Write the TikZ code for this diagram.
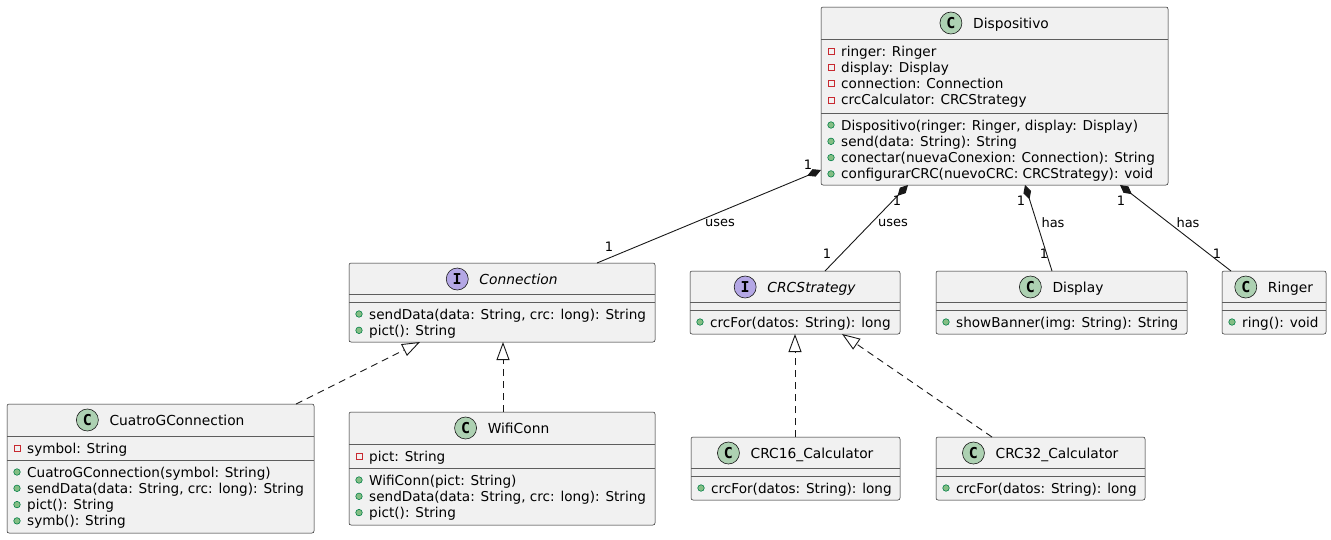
\documentclass[tikz,border=0pt]{standalone}
\usepackage{fontspec}
\setmainfont{DejaVu Sans}
\setmonofont{DejaVu Sans Mono}
\usepackage{tikz}
\usetikzlibrary{calc,arrows.meta}

\definecolor{boxfill}{HTML}{F1F1F1}
\definecolor{linec}{HTML}{181818}
\definecolor{classgreen}{HTML}{ADD1B2}
\definecolor{ifacepurple}{HTML}{B4A7E5}
\definecolor{privred}{HTML}{C82930}
\definecolor{pubgreen}{HTML}{84BE84}
\definecolor{pubdark}{HTML}{038048}

\begin{document}
\begin{tikzpicture}[x=1pt, y=-1pt,
    umlbox/.style={draw=linec, fill=boxfill, rounded corners=2pt, line width=0.5pt, inner sep=0pt, outer sep=0pt},
    sepline/.style={draw=linec!70, line width=0.5pt},
    cbadge/.style={circle, draw=linec, line width=0.6pt, fill=classgreen, minimum size=22pt, inner sep=0pt, font=\ttfamily\bfseries\fontsize{15}{15}\selectfont},
    ibadge/.style={cbadge, fill=ifacepurple},
    cname/.style={font=\fontsize{13.8}{16}\selectfont, inner sep=0pt, anchor=base},
    iname/.style={cname, font=\fontsize{13.8}{16}\selectfont\itshape},
    member/.style={font=\fontsize{13.6}{16}\selectfont, inner sep=0pt, anchor=base west},
    privicon/.style={rectangle, draw=privred, line width=0.7pt, minimum size=6pt, inner sep=0pt},
    pubicon/.style={circle, draw=pubdark, fill=pubgreen, line width=0.6pt, minimum size=6.5pt, inner sep=0pt},
    lbl/.style={font=\fontsize{13}{15}\selectfont, inner sep=0pt},
    comp/.style={draw=linec, line width=0.9pt, {Diamond[length=15pt,width=8pt]}-},
    realize/.style={draw=linec, line width=0.9pt, dash pattern=on 7pt off 5pt, -{Triangle[open,length=18pt,width=13pt]}}]
    \useasboundingbox (0,0) rectangle (1331,539);

    % Dispositivo
    \node[umlbox, minimum width=347pt, minimum height=178pt] (dispositivo) at (994.5,96) {};
    \node[cname] (dispositivoName) at (1011,28) {Dispositivo};
    \node[cbadge] (dispositivoBadge) at ($(dispositivoName.base west)+(-22,-5)$) {C};
    \draw[sepline] ($(dispositivo.north west)+(0,32)$) -- ($(dispositivo.north east)+(0,32)$);
    \draw[sepline] ($(dispositivo.north west)+(0,106)$) -- ($(dispositivo.north east)+(0,106)$);
    \foreach \m [count=\i from 0] in {ringer: Ringer, display: Display, connection: Connection, crcCalculator: CRCStrategy}{
      \node[privicon] (dispAttrIcon\i) at (831,51+16.3*\i) {};
      \node[member] (dispAttr\i) at (841,56+16.3*\i) {\m};
    }
    \foreach \m [count=\i from 0] in {{Dispositivo(ringer: Ringer, display: Display)}, send(data: String): String,
        conectar(nuevaConexion: Connection): String, configurarCRC(nuevoCRC: CRCStrategy): void}{
      \node[pubicon] (dispOpIcon\i) at (831,125+16.3*\i) {};
      \node[member] (dispOp\i) at (841,130+16.3*\i) {\m};
    }

    % Connection
    \node[umlbox, minimum width=306pt, minimum height=79pt] (connection) at (502,302.5) {};
    \node[iname] (connectionName) at (518.5,284) {Connection};
    \node[ibadge] (connectionBadge) at ($(connectionName.base west)+(-22,-5)$) {I};
    \draw[sepline] ($(connection.north west)+(0,31)$) -- ($(connection.north east)+(0,31)$);
    \draw[sepline] ($(connection.north west)+(0,39)$) -- ($(connection.north east)+(0,39)$);
    \foreach \m [count=\i from 0] in {{sendData(data: String, crc: long): String}, pict(): String}{
      \node[pubicon] (connOpIcon\i) at (359,314+16.3*\i) {};
      \node[member] (connOp\i) at (369,319+16.3*\i) {\m};
    }

    % CRCStrategy
    \node[umlbox, minimum width=210pt, minimum height=63pt] (crcStrategy) at (795,302.5) {};
    \node[iname] (crcStrategyName) at (811.5,292) {CRCStrategy};
    \node[ibadge] (crcStrategyBadge) at ($(crcStrategyName.base west)+(-22,-5)$) {I};
    \draw[sepline] ($(crcStrategy.north west)+(0,31)$) -- ($(crcStrategy.north east)+(0,31)$);
    \draw[sepline] ($(crcStrategy.north west)+(0,39)$) -- ($(crcStrategy.north east)+(0,39)$);
    \node[pubicon] (crcStrategyOpIcon) at (700,322) {};
    \node[member] (crcStrategyOp) at (710,327) {crcFor(datos: String): long};

    % Display
    \node[umlbox, minimum width=251pt, minimum height=63pt] (display) at (1061.5,302.5) {};
    \node[cname] (displayName) at (1078,292) {Display};
    \node[cbadge] (displayBadge) at ($(displayName.base west)+(-22,-5)$) {C};
    \draw[sepline] ($(display.north west)+(0,31)$) -- ($(display.north east)+(0,31)$);
    \draw[sepline] ($(display.north west)+(0,39)$) -- ($(display.north east)+(0,39)$);
    \node[pubicon] (displayOpIcon) at (946,322) {};
    \node[member] (displayOp) at (956,327) {showBanner(img: String): String};

    % Ringer
    \node[umlbox, minimum width=104pt, minimum height=63pt] (ringer) at (1274,302.5) {};
    \node[cname] (ringerName) at (1290.5,292) {Ringer};
    \node[cbadge] (ringerBadge) at ($(ringerName.base west)+(-22,-5)$) {C};
    \draw[sepline] ($(ringer.north west)+(0,31)$) -- ($(ringer.north east)+(0,31)$);
    \draw[sepline] ($(ringer.north west)+(0,39)$) -- ($(ringer.north east)+(0,39)$);
    \node[pubicon] (ringerOpIcon) at (1232,322) {};
    \node[member] (ringerOp) at (1242,327) {ring(): void};

    % CuatroGConnection
    \node[umlbox, minimum width=307pt, minimum height=129pt] (cuatroG) at (160.5,468.5) {};
    \node[cname] (cuatroGName) at (177,425) {CuatroGConnection};
    \node[cbadge] (cuatroGBadge) at ($(cuatroGName.base west)+(-22,-5)$) {C};
    \draw[sepline] ($(cuatroG.north west)+(0,32)$) -- ($(cuatroG.north east)+(0,32)$);
    \draw[sepline] ($(cuatroG.north west)+(0,56)$) -- ($(cuatroG.north east)+(0,56)$);
    \node[privicon] (cuatroGAttrIcon) at (17,448) {};
    \node[member] (cuatroGAttr) at (27,453) {symbol: String};
    \foreach \m [count=\i from 0] in {CuatroGConnection(symbol: String), {sendData(data: String, crc: long): String},
        pict(): String, symb(): String}{
      \node[pubicon] (cuatroGOpIcon\i) at (17,472+16.3*\i) {};
      \node[member] (cuatroGOp\i) at (27,477+16.3*\i) {\m};
    }

    % WifiConn
    \node[umlbox, minimum width=306pt, minimum height=113pt] (wifiConn) at (502,468.5) {};
    \node[cname] (wifiConnName) at (518.5,433) {WifiConn};
    \node[cbadge] (wifiConnBadge) at ($(wifiConnName.base west)+(-22,-5)$) {C};
    \draw[sepline] ($(wifiConn.north west)+(0,32)$) -- ($(wifiConn.north east)+(0,32)$);
    \draw[sepline] ($(wifiConn.north west)+(0,56)$) -- ($(wifiConn.north east)+(0,56)$);
    \node[privicon] (wifiConnAttrIcon) at (359,456) {};
    \node[member] (wifiConnAttr) at (369,461) {pict: String};
    \foreach \m [count=\i from 0] in {WifiConn(pict: String), {sendData(data: String, crc: long): String}, pict(): String}{
      \node[pubicon] (wifiConnOpIcon\i) at (359,480+16.3*\i) {};
      \node[member] (wifiConnOp\i) at (369,485+16.3*\i) {\m};
    }

    % CRC16_Calculator and CRC32_Calculator
    \foreach \c/\cx/\nm in {crc16/795.5/CRC16\_Calculator, crc32/1040.5/CRC32\_Calculator}{
      \node[umlbox, minimum width=209pt, minimum height=63pt] (\c) at (\cx,468.5) {};
      \node[cname] (\c Name) at (\cx+16.5,458) {\nm};
      \node[cbadge] (\c Badge) at ($(\c Name.base west)+(-22,-5)$) {C};
      \draw[sepline] ($(\c.north west)+(0,31)$) -- ($(\c.north east)+(0,31)$);
      \draw[sepline] ($(\c.north west)+(0,39)$) -- ($(\c.north east)+(0,39)$);
      \node[pubicon] (\c OpIcon) at (\cx-94.5,488) {};
      \node[member] (\c Op) at (\cx-84.5,493) {crcFor(datos: String): long};
    }

    % end points of the connectors
    \coordinate (dispToConn)    at ($(dispositivo.north west)+(0,163)$);
    \coordinate (connTop)       at ($(connection.north west)+(248,0)$);
    \coordinate (dispToCrc)     at ($(dispositivo.south west)+(87,0)$);
    \coordinate (crcTop)        at ($(crcStrategy.north west)+(135,0)$);
    \coordinate (dispToDisplay) at ($(dispositivo.south west)+(204,0)$);
    \coordinate (displayTop)    at ($(display.north west)+(116,0)$);
    \coordinate (dispToRinger)  at ($(dispositivo.south west)+(299,0)$);
    \coordinate (ringerTop)     at ($(ringer.north west)+(9,0)$);
    \coordinate (cuatroGTop)    at ($(cuatroG.north west)+(289,0)$);
    \coordinate (connBotA)      at ($(connection.south west)+(71,0)$);
    \coordinate (wifiConnTop)   at ($(wifiConn.north west)+(154,0)$);
    \coordinate (connBotB)      at ($(connection.south west)+(154,0)$);
    \coordinate (crc16Top)      at ($(crc16.north west)+(104,0)$);
    \coordinate (crcBotA)       at ($(crcStrategy.south west)+(105,0)$);
    \coordinate (crc32Top)      at ($(crc32.north west)+(56,0)$);
    \coordinate (crcBotB)       at ($(crcStrategy.south west)+(152,0)$);

    % composition
    \draw[comp] (dispToConn) -- (connTop);
    \draw[comp] (dispToCrc) -- (crcTop);
    \draw[comp] (dispToDisplay) -- (displayTop);
    \draw[comp] (dispToRinger) -- (ringerTop);
    % realization
    \draw[realize] (cuatroGTop) -- (connBotA);
    \draw[realize] (wifiConnTop) -- (connBotB);
    \draw[realize] (crc16Top) -- (crcBotA);
    \draw[realize] (crc32Top) -- (crcBotB);

    % multiplicities and labels
    \node[lbl] (connMultA) at (808,165) {1};
    \node[lbl] (connUses)  at (720,223) {uses};
    \node[lbl] (connMultB) at (609,247) {1};
    \node[lbl] (crcMultA)  at (897,201) {1};
    \node[lbl] (crcUses)   at (893,223) {uses};
    \node[lbl] (crcMultB)  at (827,254) {1};
    \node[lbl] (displayMultA) at (1021,201) {1};
    \node[lbl] (displayHas)   at (1053,223) {has};
    \node[lbl] (displayMultB) at (1044,254) {1};
    \node[lbl] (ringerMultA)  at (1121,201) {1};
    \node[lbl] (ringerHas)    at (1188,223) {has};
    \node[lbl] (ringerMultB)  at (1217,254) {1};
\end{tikzpicture}
\end{document}
